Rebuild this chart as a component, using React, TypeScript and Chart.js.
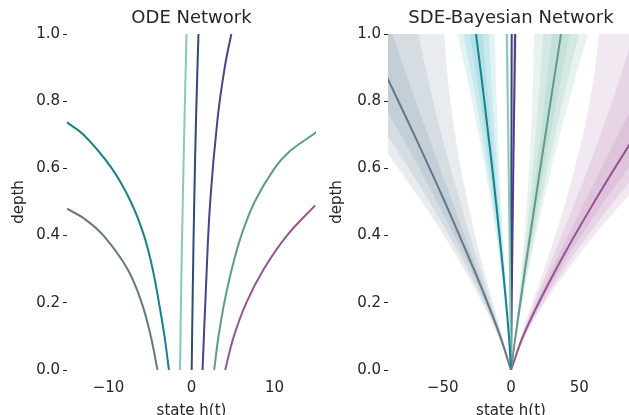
import React, { useEffect, useRef } from 'react';
import { Chart, registerables } from 'chart.js';

Chart.register(...registerables);

// ---------- axis ticks ----------
const depthTicks = [0, 0.2, 0.4, 0.6, 0.8, 1.0];
const odeStateTicks = [-10, 0, 10];
const sdeStateTicks = [-50, 0, 50];

// ---------- ODE Network trajectories (depth -> state) ----------
const odeGreyDepth = [0, 0.1, 0.2, 0.3, 0.4, 0.45, 0.48];
const odeGreyState = [-4.1, -4.9, -6.0, -7.7, -10.6, -12.9, -15.0];
const odeTealDepth = [0, 0.1, 0.2, 0.3, 0.4, 0.5, 0.6, 0.7, 0.74];
const odeTealState = [-2.72, -3.25, -3.92, -4.68, -5.72, -7.3, -9.6, -13.0, -15.2];
const odeMintDepth = [0, 0.25, 0.5, 0.75, 1.0];
const odeMintState = [-1.38, -1.24, -1.05, -0.84, -0.6];
const odeNavyDepth = [0, 0.25, 0.5, 0.75, 1.0];
const odeNavyState = [0.02, 0.16, 0.33, 0.55, 0.84];
const odeIndigoDepth = [0, 0.25, 0.5, 0.75, 0.9, 1.0];
const odeIndigoState = [1.33, 1.75, 2.25, 3.15, 4.0, 4.8];
const odeGreenDepth = [0, 0.1, 0.2, 0.3, 0.4, 0.5, 0.6, 0.65, 0.7, 0.71];
const odeGreenState = [2.73, 3.25, 3.95, 4.85, 6.0, 7.6, 10.0, 11.8, 14.6, 15.2];
const odePurpleDepth = [0, 0.1, 0.2, 0.3, 0.4, 0.49];
const odePurpleState = [4.06, 5.1, 6.6, 8.7, 11.5, 14.9];

// ---------- SDE-Bayesian Network (mean and spread per depth) ----------
const sdeDepth = [0, 0.1, 0.2, 0.3, 0.4, 0.5, 0.6, 0.7, 0.8, 0.9, 1.0];
const sdeGreyMean = [0, -7.9, -17.2, -27.2, -37.7, -48.4, -59.5, -70.8, -82.4, -94.1, -106];
const sdeGreySpread = [0, 0.5, 1.3, 2.4, 3.8, 5.6, 7.6, 10.0, 12.7, 15.7, 19.1];
const sdeTealMean = [0, -1.5, -3.6, -5.9, -8.4, -11.0, -13.7, -16.6, -19.5, -22.5, -25.6];
const sdeTealSpread = [0, 0.09, 0.27, 0.53, 0.86, 1.27, 1.75, 2.34, 3.0, 3.76, 4.6];
const sdeMintMean = [0, -0.25, -0.5, -0.8, -1.1, -1.4, -1.7, -2.0, -2.35, -2.7, -3.0];
const sdeMintSpread = [0, 0.02, 0.04, 0.07, 0.11, 0.16, 0.2, 0.26, 0.33, 0.4, 0.5];
const sdeNavyMean = [0, 0.05, 0.1, 0.15, 0.2, 0.25, 0.3, 0.35, 0.4, 0.45, 0.5];
const sdeNavySpread = [0, 0.01, 0.02, 0.03, 0.05, 0.07, 0.09, 0.11, 0.14, 0.17, 0.2];
const sdeIndigoMean = [0, 0.25, 0.5, 0.8, 1.1, 1.4, 1.7, 2.0, 2.35, 2.7, 3.0];
const sdeIndigoSpread = [0, 0.02, 0.04, 0.07, 0.11, 0.16, 0.2, 0.26, 0.33, 0.4, 0.5];
const sdeGreenMean = [0, 3.3, 6.8, 10.3, 14.0, 17.7, 21.4, 25.2, 29.0, 32.8, 36.6];
const sdeGreenSpread = [0, 0.21, 0.52, 0.92, 1.43, 2.04, 2.74, 3.55, 4.47, 5.48, 6.6];
const sdePurpleMean = [0, 8.8, 20.3, 33.0, 46.6, 60.9, 75.8, 91.3, 107.1, 123.4, 140];
const sdePurpleSpread = [0, 0.55, 1.54, 2.94, 4.75, 7.0, 9.7, 12.9, 16.5, 20.6, 25.2];

// ---------- styles ----------
const FONT = 'DejaVu Sans';
const TEXT = '#262626';
const C = {
  grey: '#647788',
  teal: '#15828f',
  mint: '#8cc8b8',
  navy: '#324b73',
  indigo: '#4b418c',
  green: '#5f9b8c',
  purple: '#965591',
};
const BAND = {
  grey: '#5d7a8c',
  teal: '#2aa9bb',
  mint: '#7cc6b2',
  navy: '#3f5f8f',
  indigo: '#5a50a0',
  green: '#5aa893',
  purple: '#a05a9e',
};
const TENSION = 0.4;

function rgba(hex: string, a: number) {
  const n = parseInt(hex.slice(1), 16);
  return `rgba(${(n >> 16) & 255},${(n >> 8) & 255},${n & 255},${a})`;
}

function pts(depth: number[], state: number[]) {
  return depth.map((d, i) => ({ x: state[i], y: d }));
}

function lineDs(data: any[], color: string, width = 2) {
  return {
    data,
    borderColor: color,
    borderWidth: width,
    pointRadius: 0,
    fill: false,
    tension: TENSION,
  };
}

function bandDs(mean: number[], spread: number[], color: string) {
  const out: any[] = [];
  [3, 2, 1].forEach((k) => {
    const lo = mean.map((m, i) => m - k * spread[i]);
    const hi = mean.map((m, i) => m + k * spread[i]);
    out.push({ data: pts(sdeDepth, lo), borderWidth: 0, pointRadius: 0, fill: false, tension: TENSION });
    out.push({
      data: pts(sdeDepth, hi),
      borderWidth: 0,
      pointRadius: 0,
      fill: '-1',
      backgroundColor: rgba(color, 0.14),
      tension: TENSION,
    });
  });
  return out;
}

const fmtState = (v: any) => {
  const n = Number(v);
  return n < 0 ? '\u2212' + Math.abs(n) : String(n);
};

function makeOptions(title: string, xMin: number, xMax: number, xTicks: number[], yAxisWidth: number, rightPad: number) {
  return {
    responsive: false,
    animation: false,
    devicePixelRatio: 1,
    indexAxis: 'y',
    layout: { padding: { left: 0, right: rightPad, top: 0, bottom: 0 } },
    plugins: {
      legend: { display: false },
      tooltip: { enabled: false },
      title: {
        display: true,
        text: title,
        fullSize: false,
        color: TEXT,
        font: { family: FONT, size: 18, weight: 'normal' },
        padding: { top: 8, bottom: 4.4 },
      },
    },
    scales: {
      x: {
        type: 'linear',
        position: 'bottom',
        min: xMin,
        max: xMax,
        afterBuildTicks: (ax: any) => {
          ax.ticks = xTicks.map((v) => ({ value: v }));
        },
        afterFit: (ax: any) => {
          ax.height = 60;
        },
        ticks: {
          callback: fmtState,
          color: TEXT,
          font: { family: FONT, size: 15 },
          padding: 9,
          maxRotation: 0,
          autoSkip: false,
        },
        grid: { display: false, drawTicks: false },
        border: { display: false },
        title: {
          display: true,
          text: 'state h(t)',
          color: TEXT,
          font: { family: FONT, size: 15 },
          padding: { top: 0, bottom: 10 },
        },
      },
      y: {
        type: 'linear',
        position: 'left',
        min: 0,
        max: 1,
        afterBuildTicks: (ax: any) => {
          ax.ticks = depthTicks.map((v) => ({ value: v }));
        },
        afterFit: (ax: any) => {
          ax.width = yAxisWidth;
        },
        ticks: {
          callback: (v: any) => Number(v).toFixed(1),
          color: TEXT,
          font: { family: FONT, size: 15 },
          padding: 3,
          autoSkip: false,
        },
        grid: { display: true, drawOnChartArea: false, drawTicks: true, tickLength: 4, tickColor: TEXT, tickWidth: 1 },
        border: { display: false },
        title: {
          display: true,
          text: 'depth',
          color: TEXT,
          font: { family: FONT, size: 15 },
          padding: { top: 10, bottom: 0 },
        },
      },
    },
  };
}

export default function App() {
  const leftRef = useRef<HTMLCanvasElement | null>(null);
  const rightRef = useRef<HTMLCanvasElement | null>(null);

  useEffect(() => {
    Chart.defaults.font.family = FONT;

    const left = new Chart(leftRef.current as HTMLCanvasElement, {
      type: 'line',
      data: {
        datasets: [
          lineDs(pts(odeGreyDepth, odeGreyState), C.grey),
          lineDs(pts(odeTealDepth, odeTealState), C.teal),
          lineDs(pts(odeMintDepth, odeMintState), C.mint),
          lineDs(pts(odeNavyDepth, odeNavyState), C.navy),
          lineDs(pts(odeIndigoDepth, odeIndigoState), C.indigo),
          lineDs(pts(odeGreenDepth, odeGreenState), C.green),
          lineDs(pts(odePurpleDepth, odePurpleState), C.purple),
        ] as any,
      },
      options: makeOptions('ODE Network', -15, 15, odeStateTicks, 67, 4) as any,
    });

    const right = new Chart(rightRef.current as HTMLCanvasElement, {
      type: 'line',
      data: {
        datasets: [
          lineDs(pts(sdeDepth, sdeGreyMean), C.grey),
          lineDs(pts(sdeDepth, sdeTealMean), C.teal),
          lineDs(pts(sdeDepth, sdeGreenMean), C.green),
          lineDs(pts(sdeDepth, sdePurpleMean), C.purple),
          lineDs(pts(sdeDepth, sdeMintMean), C.mint),
          lineDs(pts(sdeDepth, sdeNavyMean), C.navy),
          lineDs(pts(sdeDepth, sdeIndigoMean), C.indigo),
          ...bandDs(sdeGreyMean, sdeGreySpread, BAND.grey),
          ...bandDs(sdeTealMean, sdeTealSpread, BAND.teal),
          ...bandDs(sdeMintMean, sdeMintSpread, BAND.mint),
          ...bandDs(sdeNavyMean, sdeNavySpread, BAND.navy),
          ...bandDs(sdeIndigoMean, sdeIndigoSpread, BAND.indigo),
          ...bandDs(sdeGreenMean, sdeGreenSpread, BAND.green),
          ...bandDs(sdePurpleMean, sdePurpleSpread, BAND.purple),
        ] as any,
      },
      options: makeOptions('SDE-Bayesian Network', -90, 90, sdeStateTicks, 70, 0) as any,
    });

    return () => {
      left.destroy();
      right.destroy();
    };
  }, []);

  return (
    <div
      style={{
        position: 'fixed',
        left: 0,
        top: 0,
        width: 629,
        height: 415,
        overflow: 'hidden',
        background: '#ffffff',
      }}
    >
      <canvas ref={leftRef} width={320} height={430} style={{ position: 'absolute', left: 0, top: 0 }} />
      <canvas ref={rightRef} width={316} height={430} style={{ position: 'absolute', left: 318, top: 0 }} />
    </div>
  );
}
